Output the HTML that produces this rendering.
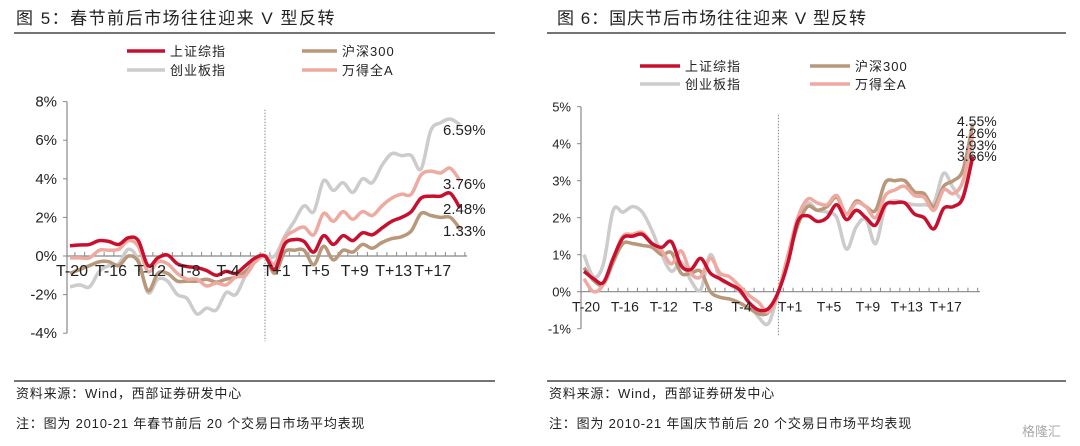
<!DOCTYPE html>
<html><head><meta charset="utf-8"><style>
body{margin:0;background:#fff;width:1080px;height:446px;overflow:hidden;font-family:"Liberation Sans","Noto Sans CJK SC",sans-serif}
svg{display:block}
</style></head><body>
<svg id="s" width="1080" height="446" xmlns="http://www.w3.org/2000/svg">
<g font-family="Liberation Sans, Noto Sans CJK SC, sans-serif" fill="#222">
<text x="16" y="24" font-size="17" letter-spacing="1.5">图 5：春节前后市场往往迎来 V 型反转</text>
<line x1="14" y1="33" x2="495" y2="33" stroke="#222" stroke-width="1.2"/>
<text x="557" y="24" font-size="17" letter-spacing="1">图 6：国庆节后市场往往迎来 V 型反转</text>
<line x1="547" y1="33" x2="1066" y2="33" stroke="#222" stroke-width="1.2"/>
<line x1="14" y1="381" x2="495" y2="381" stroke="#222" stroke-width="1.2"/>
<line x1="547" y1="381" x2="1066" y2="381" stroke="#222" stroke-width="1.2"/>
<text x="16" y="398" font-size="13" letter-spacing="0.8">资料来源：Wind，西部证券研发中心</text>
<text x="16" y="428" font-size="13" letter-spacing="0.8">注：图为 2010-21 年春节前后 20 个交易日市场平均表现</text>
<text x="549" y="398" font-size="13" letter-spacing="0.8">资料来源：Wind，西部证券研发中心</text>
<text x="549" y="428" font-size="13" letter-spacing="0.8">注：图为 2010-21 年国庆节前后 20 个交易日市场平均表现</text>
<text x="1022" y="436" font-size="13" fill="#aaa">格隆汇</text>
</g>
<g id="L"></g>
<g id="R"></g>
</svg>
<script>
const names=["上证综指","沪深300","创业板指","万得全A"];
const colors=["#c8102e","#b8977a","#cccccc","#eeaaa0"];
const xLabels=["T-20","T-16","T-12","T-8","T-4","T+1","T+5","T+9","T+13","T+17"];
const xLabelIdx=[0,4,8,12,16,21,25,29,33,37];
// Left chart (春节)
const leftSH=[0.53,0.57,0.6,0.8,0.75,0.6,0.95,0.8,-0.5,-0.1,0.05,-0.4,-0.55,-0.6,-0.75,-1.0,-0.8,-0.9,-0.5,-0.1,0,-0.7,0.6,0.85,0.75,0.2,1.05,0.6,1.05,0.8,1.2,1.1,1.45,1.8,2.0,2.3,3.0,3.1,3.1,3.25,2.48];
const leftHS=[-0.9,-0.7,-0.5,-0.3,-0.3,-0.5,0,-0.3,-1.8,-0.9,-0.9,-1.3,-1.3,-1.3,-1.2,-1.35,-1.2,-1.1,-0.8,-0.3,0,-0.9,0.2,0.3,0.3,-0.45,0.5,-0.2,0.3,0.2,0.6,0.4,0.7,0.9,1.0,1.3,2.2,2.1,2.0,2.0,1.4];
const leftCY=[-1.6,-1.5,-1.6,-0.8,-0.5,-0.4,0.35,-0.2,-1.9,-1.2,-1.3,-2.0,-2.2,-3.0,-2.7,-2.8,-1.9,-2.0,-1.0,-0.1,0,0,1.0,1.8,2.6,2.3,3.9,3.4,3.8,3.3,4.0,3.8,4.7,5.3,5.2,5.2,4.5,6.5,6.9,7.1,6.8];
const leftWD=[-0.1,-0.1,-0.1,0.3,0.3,0.35,0.8,0.5,-0.8,-0.3,-0.4,-0.9,-1.2,-1.2,-1.55,-1.4,-1.5,-1.1,-1.0,-0.3,0,-0.4,0.9,1.3,1.5,1.1,2.2,1.8,2.3,1.9,2.3,2.1,2.6,3.0,3.2,3.2,4.2,4.4,4.3,4.55,3.9];
const leftTicks=[8,6,4,2,0,-2,-4];
const leftEndLabels=["6.59%","3.76%","2.48%","1.33%"];
// Right chart (国庆)
const rightSH=[0.55,0.35,0.25,0.9,1.45,1.5,1.55,1.3,1.2,1.35,0.7,0.6,0.9,0.5,0.35,0.2,0.05,-0.3,-0.5,-0.45,0,0.8,1.9,2.05,1.9,2.0,2.35,1.95,2.2,2.0,1.8,2.35,2.4,2.4,2.1,2.0,1.7,2.25,2.3,2.55,3.66];
const rightHS=[0.65,0.3,0.2,0.8,1.3,1.3,1.25,1.2,1.0,1.05,0.5,0.5,0.55,0.0,-0.15,-0.2,-0.3,-0.45,-0.6,-0.55,0,0.9,1.8,2.3,2.2,2.3,2.55,2.1,2.45,2.3,2.2,2.95,3.0,3.0,2.7,2.65,2.3,2.85,3.0,3.3,4.55];
const rightCY=[1.0,0.4,0.75,2.2,2.15,2.3,2.15,1.65,1.0,0.55,0.8,0.3,0.05,1.0,0.35,0.2,0.0,-0.3,-0.7,-0.85,0,1.0,2.0,2.4,2.2,2.15,2.0,1.15,1.75,1.95,1.3,2.3,2.45,2.4,2.35,2.35,2.4,3.2,2.8,2.6,3.93];
const rightWD=[0.35,0.0,0.2,0.9,1.5,1.55,1.6,1.3,1.1,0.75,1.1,0.5,0.4,0.9,0.5,0.4,0.15,-0.1,-0.3,-0.55,0,1.0,2.0,2.5,2.4,2.35,2.6,2.1,2.4,2.3,2.0,2.6,2.75,2.85,2.6,2.55,2.2,2.75,2.65,3.0,4.26];
const rightTicks=[5,4,3,2,1,0,-1];
const rightEndLabels=["4.55%","4.26%","3.93%","3.66%"];

const NS="http://www.w3.org/2000/svg";
function mk(parent,tag,attrs,text){const e=document.createElementNS(NS,tag);for(const k in attrs)e.setAttribute(k,attrs[k]);if(text!==undefined)e.textContent=text;parent.appendChild(e);return e;}
function smooth(pts){let d="M"+pts[0][0]+","+pts[0][1];for(let i=0;i<pts.length-1;i++){const p0=pts[Math.max(0,i-1)],p1=pts[i],p2=pts[i+1],p3=pts[Math.min(pts.length-1,i+2)];const c1x=p1[0]+(p2[0]-p0[0])/6,c1y=p1[1]+(p2[1]-p0[1])/6,c2x=p2[0]-(p3[0]-p1[0])/6,c2y=p2[1]-(p3[1]-p1[1])/6;d+=" C"+c1x.toFixed(1)+","+c1y.toFixed(1)+" "+c2x.toFixed(1)+","+c2y.toFixed(1)+" "+p2[0].toFixed(1)+","+p2[1].toFixed(1);}return d;}
function draw(g,cfg){
  const X=i=>cfg.x0+i*cfg.dx, Y=v=>cfg.y0-v*cfg.ky;
  const ax=mk(g,"line",{x1:cfg.ax,y1:Y(cfg.ticks[0]),x2:cfg.ax,y2:Y(cfg.ticks[cfg.ticks.length-1]),stroke:"#888","stroke-width":1.2});
  
  
  cfg.ticks.forEach(t=>{
    const tl=mk(g,"line",{x1:cfg.ax-4,y1:Y(t),x2:cfg.ax,y2:Y(t),stroke:"#888"});
    
    
    const tx=mk(g,"text",{x:cfg.ax-10,y:Y(t)+5,"text-anchor":"end","font-size":cfg.fs,fill:"#222","font-family":"Liberation Sans, sans-serif"},t+"%");
    
    
  });
  const xa=mk(g,"line",{x1:cfg.ax,y1:Y(0),x2:cfg.xend,y2:Y(0),stroke:"#888","stroke-width":1.2});
  
  
  for(let i=0;i<=40;i++){
    const t=mk(g,"line",{x1:X(i)+cfg.dx/2,y1:Y(0),x2:X(i)+cfg.dx/2,y2:Y(0)-4,stroke:"#888"});
    
    
  }
  const vl=mk(g,"line",{x1:X(20),y1:Y(cfg.ticks[0])+8,x2:X(20),y2:Y(cfg.ticks[cfg.ticks.length-1])+8,stroke:"#888","stroke-dasharray":"1.5,1.5"});
  
  
  cfg.series.forEach((s,k)=>{
    const order=[2,1,3,0][k];
    const sr=cfg.series[order];
    const p=mk(g,"path",{d:smooth(sr.map((v,i)=>[X(i),Y(v)])),fill:"none",stroke:colors[order],"stroke-width":3.5,"stroke-linejoin":"round"});
    
    
  });
  xLabelIdx.forEach((idx,j)=>{
    const t=mk(g,"text",{x:X(idx)+2,y:Y(0)+cfg.xlo,"text-anchor":"middle","font-size":cfg.xfs,fill:"#222","font-family":"Liberation Sans, sans-serif"},xLabels[j]);
    
    
  });
  cfg.endLabels.forEach((l,j)=>{
    const t=mk(g,"text",{x:cfg.elx,y:cfg.ely[j],"font-size":cfg.efs,fill:"#222","font-family":"Liberation Sans, sans-serif"},l);
    
    
  });
  cfg.legend.forEach((lg,k)=>{
    const ln=mk(g,"line",{x1:lg[0],y1:lg[1],x2:lg[0]+lg[2],y2:lg[1],stroke:colors[k],"stroke-width":3.5});
    
    
    const t=mk(g,"text",{x:lg[0]+lg[2]+5,y:lg[1]+5,"font-size":13,"letter-spacing":1,fill:"#222","font-family":"Liberation Sans, Noto Sans CJK SC, sans-serif"},names[k]);
    
    
  });
}
draw(document.getElementById("L"),{x0:70,dx:9.75,y0:256,ky:19.3,ax:67,xend:467,ticks:leftTicks,fs:15,xfs:16,xlo:20,
  series:[leftSH,leftHS,leftCY,leftWD],endLabels:leftEndLabels,elx:443,ely:[135,189,214,236],efs:15,
  legend:[[127,51,38],[302,51,35],[127,70,38],[302,70,35]]});
draw(document.getElementById("R"),{x0:584,dx:9.72,y0:291.7,ky:37,ax:581,xend:980,ticks:rightTicks,fs:13,xfs:14,xlo:20,
  series:[rightSH,rightHS,rightCY,rightWD],endLabels:rightEndLabels,elx:957,ely:[126,138,150,161],efs:14,
  legend:[[640,66,40],[810,66,40],[640,84,40],[810,84,40]]});
</script>
</body></html>
